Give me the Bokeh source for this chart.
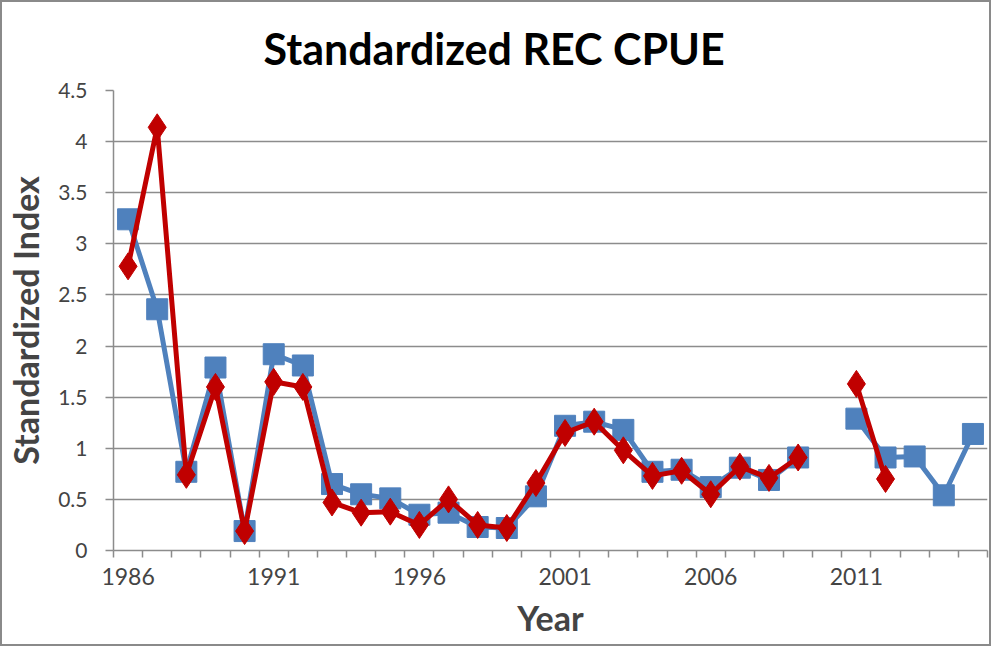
from bokeh.plotting import figure
from bokeh.models import FixedTicker, CustomJSTickFormatter, Range1d
from bokeh.embed import file_html
from bokeh.resources import INLINE

nan = float("nan")

years = list(range(1986, 2016))
blue_index = [3.24, 2.36, 0.77, 1.79, 0.19, 1.92, 1.81, 0.65, 0.55, 0.51,
              0.35, 0.37, 0.23, 0.22, 0.53, 1.22, 1.26, 1.18, 0.77, 0.79,
              0.62, 0.81, 0.69, 0.91, nan, 1.29, 0.91, 0.92, 0.54, 1.14]
red_index = [2.78, 4.14, 0.74, 1.60, 0.19, 1.65, 1.60, 0.47, 0.37, 0.38,
             0.25, 0.50, 0.25, 0.22, 0.66, 1.15, 1.26, 0.98, 0.73, 0.78,
             0.55, 0.82, 0.71, 0.91, nan, 1.63, 0.70, nan, nan, nan]
x_tick_labels = ["1986", "1991", "1996", "2001", "2006", "2011"]
y_ticks = [0, 0.5, 1, 1.5, 2, 2.5, 3, 3.5, 4, 4.5]

FONT = "Lato"
GRID = "#8c8c8c"

p = figure(width=991, height=646, output_backend="svg", toolbar_location=None,
           x_range=Range1d(years[0] - 0.5, years[-1] + 0.5),
           y_range=Range1d(0, 4.5),
           min_border_left=109, min_border_right=6, min_border_top=88,
           min_border_bottom=98)
p.styles = {"border": "2px solid #8a8a8a", "box-sizing": "border-box"}

p.title.text = "Standardized REC  CPUE"
p.title.align = "left"
p.title.offset = 150
p.title.text_font = FONT
p.title.text_font_style = "bold"
p.title.text_font_size = "43px"
p.title.text_color = "black"
p.title.standoff = 34

p.outline_line_color = None
p.background_fill_color = "white"
p.border_fill_color = "white"

# x axis
p.xaxis.ticker = FixedTicker(ticks=[int(t) for t in x_tick_labels],
                             minor_ticks=[y - 0.5 for y in years] + [years[-1] + 0.5])
p.xaxis.major_tick_out = 0
p.xaxis.major_tick_in = 0
p.xaxis.minor_tick_out = 7
p.xaxis.minor_tick_in = 0
p.xaxis.minor_tick_line_color = GRID
p.xaxis.minor_tick_line_width = 1.5
p.xaxis.axis_line_color = GRID
p.xaxis.axis_line_width = 1.5
p.xaxis.major_label_text_font = FONT
p.xaxis.major_label_text_font_size = "23px"
p.xaxis.major_label_standoff = 10
p.xaxis.axis_label = "Year"
p.xaxis.axis_label_text_font = FONT
p.xaxis.axis_label_text_font_style = "bold"
p.xaxis.axis_label_text_font_size = "34px"
p.xaxis.axis_label_standoff = 9
p.xgrid.grid_line_color = None

# y axis
p.yaxis.ticker = FixedTicker(ticks=y_ticks, minor_ticks=[])
p.yaxis.formatter = CustomJSTickFormatter(code="return tick.toString();")
p.yaxis.major_tick_out = 8
p.yaxis.major_tick_in = 0
p.yaxis.major_tick_line_color = GRID
p.yaxis.major_tick_line_width = 1.5
p.yaxis.axis_line_color = GRID
p.yaxis.axis_line_width = 1.5
p.yaxis.major_label_text_font = FONT
p.yaxis.major_label_text_font_size = "21px"
p.yaxis.major_label_standoff = 18
p.yaxis.axis_label = "Standardized Index"
p.yaxis.axis_label_text_font = FONT
p.yaxis.axis_label_text_font_style = "bold"
p.yaxis.axis_label_text_font_size = "34px"
p.yaxis.axis_label_standoff = 9
p.ygrid.grid_line_color = GRID
p.ygrid.grid_line_width = 1.5

BLUE = "#4F81BD"
RED = "#C00000"

p.line(years, blue_index, line_color=BLUE, line_width=5)
p.scatter(years, blue_index, marker="square", size=21, fill_color=BLUE,
          line_color=BLUE)
p.line(years, red_index, line_color=RED, line_width=5)
p.scatter(years, red_index, marker="diamond", size=27, fill_color=RED,
          line_color=RED)

open("out.html", "w").write(file_html(p, INLINE))
